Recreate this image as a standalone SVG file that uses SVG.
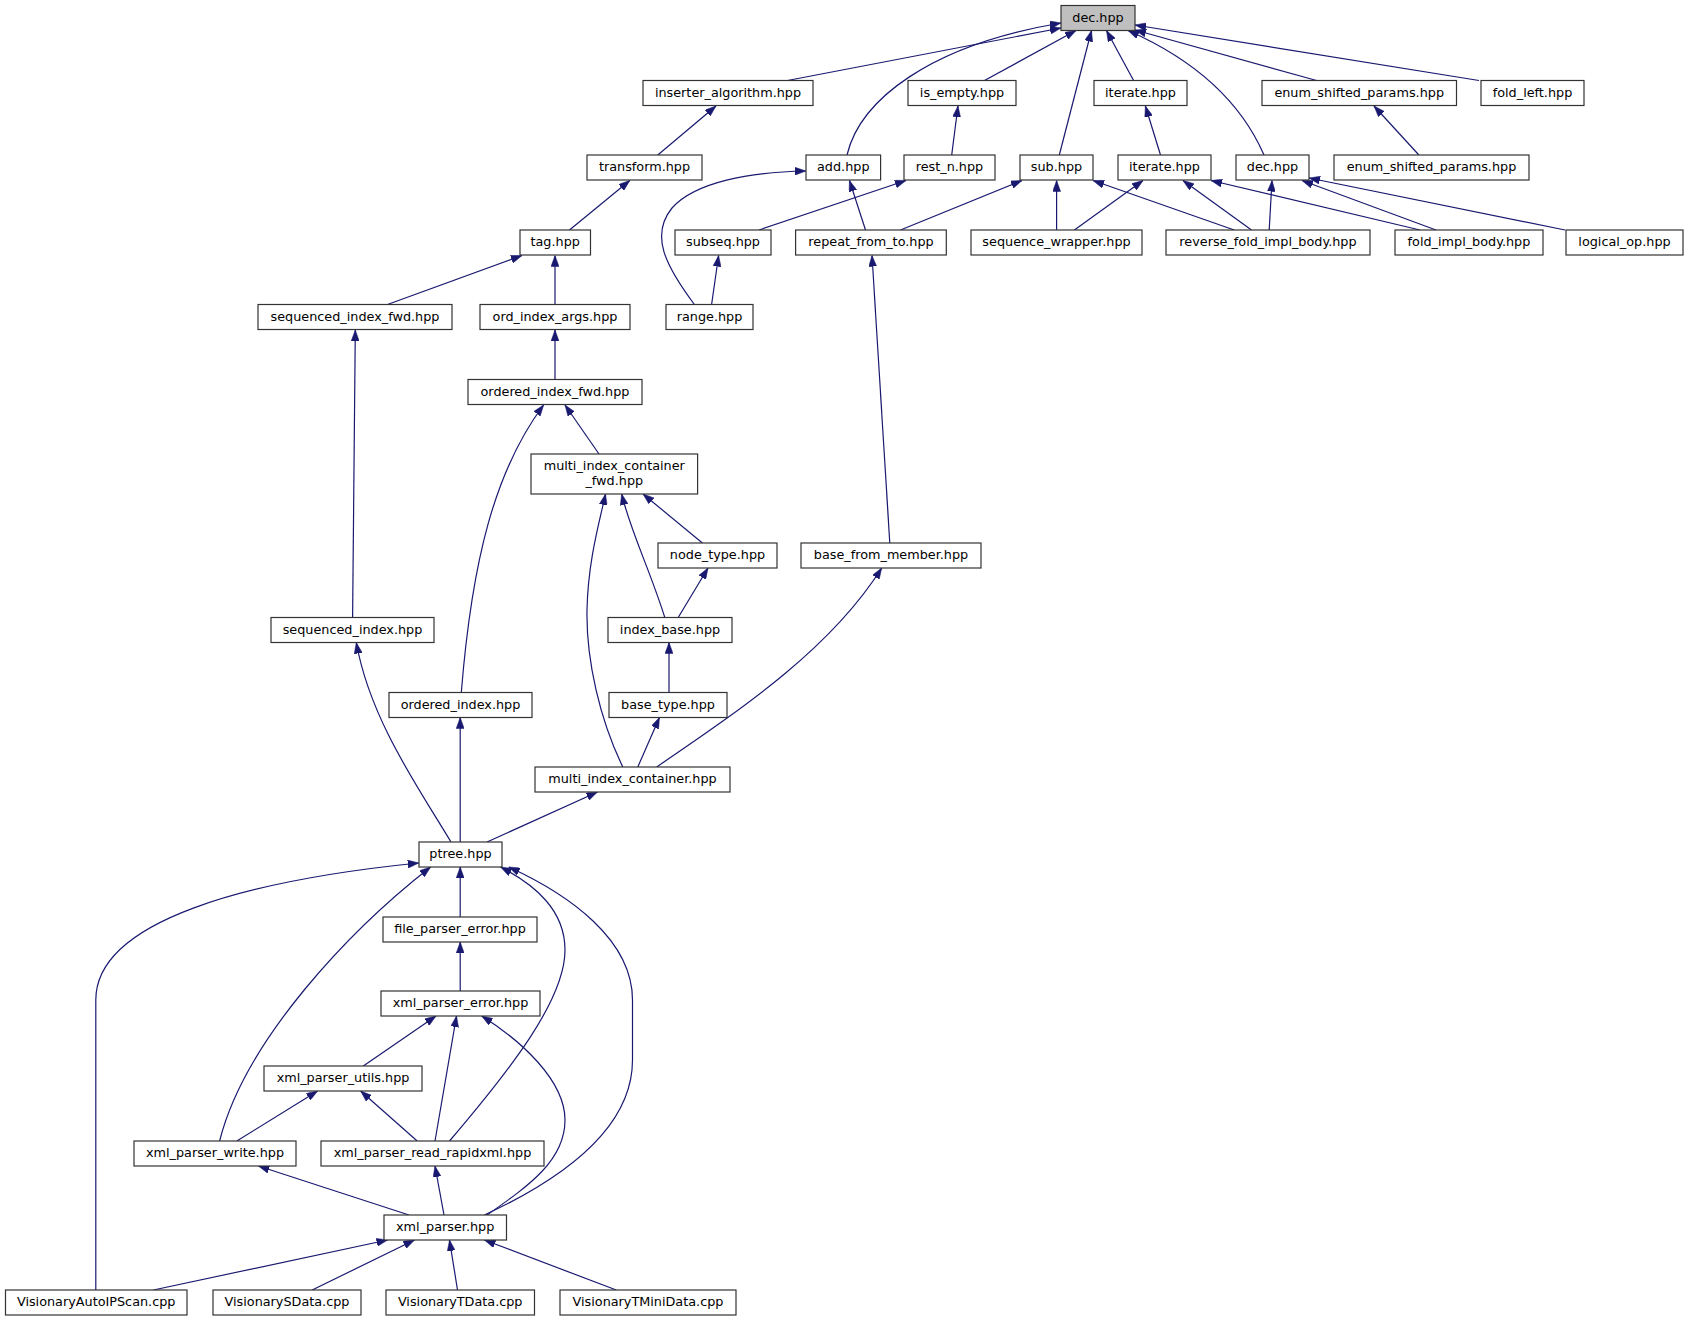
<svg xmlns="http://www.w3.org/2000/svg" width="1688" height="1321" viewBox="0 0 1688 1321">
<style>
.n rect{fill:#ffffff;stroke:#333333;stroke-width:1.2}
.n.root rect{fill:#bfbfbf}
.n text{font-family:"DejaVu Sans","Liberation Sans",sans-serif;font-size:12.8px;fill:#000;text-anchor:middle}
.e path{fill:none;stroke:#191970;stroke-width:1.2;marker-end:url(#ah)}
</style>
<defs>
<marker id="ah" markerUnits="userSpaceOnUse" markerWidth="11" markerHeight="8" refX="11" refY="4" orient="auto">
<path d="M0,0 L11,4 L0,8 z" fill="#191970" stroke="#191970" stroke-width="0.5"/>
</marker>
</defs>
<rect x="0" y="0" width="1688" height="1321" fill="#ffffff"/>
<g id="edges" class="e">
<path d="M787.5,80.5 L1061,28"/>
<path d="M847,155 C860,100 930,45 1061,23"/>
<path d="M984.5,80.5 L1076,30.5"/>
<path d="M1059.3,155 L1091.5,30.5"/>
<path d="M1133.6,80.5 L1106.5,30.5"/>
<path d="M1264,155 C1240,100 1195,60 1128,30.5"/>
<path d="M1316.6,80.5 L1135,30"/>
<path d="M1479,80.5 L1135,25"/>
<path d="M1418.9,155 L1374,106"/>
<path d="M951.7,155 L958,106"/>
<path d="M1160.5,155 L1145.4,106"/>
<path d="M657.8,155 L716,106"/>
<path d="M569.5,230 L629.8,180.5"/>
<path d="M759,230 L906,180.5"/>
<path d="M694.4,304.5 C665,265 650,235 672,208 C695,182 750,172 805.8,171"/>
<path d="M711.6,304.5 L718.6,255.5"/>
<path d="M865.5,230 L849.5,180.5"/>
<path d="M900.5,230 L1022,180.5"/>
<path d="M1056.6,230 L1056.6,180.5"/>
<path d="M1074.4,230 L1143,180.5"/>
<path d="M1234.2,230 L1093,180.5"/>
<path d="M1251.5,230 L1183,180.5"/>
<path d="M1269.2,230 L1272,180.5"/>
<path d="M1420,230 L1211,180.5"/>
<path d="M1436,230 L1302,180.5"/>
<path d="M1565,230 L1309,178"/>
<path d="M387.5,304.5 L522,255.5"/>
<path d="M555,304.5 L555,255.5"/>
<path d="M555,379.5 L555,330"/>
<path d="M352.6,617.5 L355.3,330"/>
<path d="M599,454 L565,405"/>
<path d="M461.3,692.5 C472,560 495,470 543.6,405"/>
<path d="M702.4,543 L643,494"/>
<path d="M664.8,617.5 C650,570 630,530 621.7,494"/>
<path d="M678.2,617.5 L708,568"/>
<path d="M669,692.5 L669,642.5"/>
<path d="M622.8,767 C600,720 586,660 587,610 C588,560 600,520 605.5,494"/>
<path d="M637.8,767 L659.4,717.5"/>
<path d="M656.7,767 C740,710 830,650 881.7,568"/>
<path d="M889.8,543 L872,255.5"/>
<path d="M451,842 C420,790 370,720 356.3,642.5"/>
<path d="M460.2,842 L460.2,717.5"/>
<path d="M487,842 L597.5,792"/>
<path d="M460.2,917 L460.2,867"/>
<path d="M95.8,1290 L95.8,1000 C95.8,920 250,880 418.8,863"/>
<path d="M219.6,1141 C245,1040 350,930 430.6,867"/>
<path d="M449.5,1141 C510,1070 565,1000 565,950 C565,910 535,885 500.6,867"/>
<path d="M484.4,1215 C560,1180 632.5,1130 632.5,1060 L632.5,1000 C632.5,940 570,895 508.7,867"/>
<path d="M460.2,991 L460.2,942"/>
<path d="M363.3,1066 L436,1016"/>
<path d="M435,1141 L456.5,1016"/>
<path d="M487,1215 C530,1185 565,1160 565,1120 C565,1080 520,1040 481.7,1016"/>
<path d="M236.8,1141 L317.6,1091"/>
<path d="M417.2,1141 L360.6,1091"/>
<path d="M409,1215 L258.4,1166"/>
<path d="M444,1215 L435,1166"/>
<path d="M153.4,1290 L387.6,1240"/>
<path d="M312.2,1290 L414.5,1240"/>
<path d="M457.5,1290 L449.5,1240"/>
<path d="M616.3,1290 L484.4,1240"/>
</g>
<g id="n_dec0" class="n root"><rect x="1061" y="5.5" width="74" height="25"/><text x="1098" y="21.5">dec.hpp</text></g>
<g id="n_inserter" class="n"><rect x="643" y="80.5" width="170" height="25"/><text x="728" y="96.5">inserter_algorithm.hpp</text></g>
<g id="n_is_empty" class="n"><rect x="908" y="80.5" width="108" height="25"/><text x="962" y="96.5">is_empty.hpp</text></g>
<g id="n_iterate1" class="n"><rect x="1094" y="80.5" width="93" height="25"/><text x="1140.5" y="96.5">iterate.hpp</text></g>
<g id="n_enum1" class="n"><rect x="1262" y="80.5" width="194.5" height="25"/><text x="1359.2" y="96.5">enum_shifted_params.hpp</text></g>
<g id="n_fold_left" class="n"><rect x="1481" y="80.5" width="103" height="25"/><text x="1532.5" y="96.5">fold_left.hpp</text></g>
<g id="n_transform" class="n"><rect x="587" y="155" width="115" height="25"/><text x="644.5" y="171">transform.hpp</text></g>
<g id="n_add" class="n"><rect x="806" y="155" width="74.6" height="25"/><text x="843.3" y="171">add.hpp</text></g>
<g id="n_rest_n" class="n"><rect x="904" y="155" width="91" height="25"/><text x="949.5" y="171">rest_n.hpp</text></g>
<g id="n_sub" class="n"><rect x="1020" y="155" width="73" height="25"/><text x="1056.5" y="171">sub.hpp</text></g>
<g id="n_iterate2" class="n"><rect x="1118" y="155" width="93" height="25"/><text x="1164.5" y="171">iterate.hpp</text></g>
<g id="n_dec2" class="n"><rect x="1236" y="155" width="73" height="25"/><text x="1272.5" y="171">dec.hpp</text></g>
<g id="n_enum2" class="n"><rect x="1334" y="155" width="195" height="25"/><text x="1431.5" y="171">enum_shifted_params.hpp</text></g>
<g id="n_tag" class="n"><rect x="520" y="230" width="70.5" height="25"/><text x="555.2" y="246">tag.hpp</text></g>
<g id="n_subseq" class="n"><rect x="675" y="230" width="96" height="25"/><text x="723" y="246">subseq.hpp</text></g>
<g id="n_repeat" class="n"><rect x="795.6" y="230" width="150.7" height="25"/><text x="871" y="246">repeat_from_to.hpp</text></g>
<g id="n_seq_wrapper" class="n"><rect x="971" y="230" width="171" height="25"/><text x="1056.5" y="246">sequence_wrapper.hpp</text></g>
<g id="n_reverse_fold" class="n"><rect x="1166" y="230" width="204" height="25"/><text x="1268" y="246">reverse_fold_impl_body.hpp</text></g>
<g id="n_fold_impl" class="n"><rect x="1395" y="230" width="148" height="25"/><text x="1469" y="246">fold_impl_body.hpp</text></g>
<g id="n_logical_op" class="n"><rect x="1566" y="230" width="117" height="25"/><text x="1624.5" y="246">logical_op.hpp</text></g>
<g id="n_seq_index_fwd" class="n"><rect x="258" y="304.5" width="194" height="25"/><text x="355" y="320.5">sequenced_index_fwd.hpp</text></g>
<g id="n_ord_index_args" class="n"><rect x="480" y="304.5" width="150" height="25"/><text x="555" y="320.5">ord_index_args.hpp</text></g>
<g id="n_range" class="n"><rect x="666" y="304.5" width="87" height="25"/><text x="709.5" y="320.5">range.hpp</text></g>
<g id="n_ordered_index_fwd" class="n"><rect x="468" y="379.5" width="174" height="25"/><text x="555" y="395.5">ordered_index_fwd.hpp</text></g>
<g id="n_mic_fwd" class="n"><rect x="531" y="454" width="166.6" height="40"/><text x="614.3" y="470">multi_index_container</text><text x="614.3" y="485">_fwd.hpp</text></g>
<g id="n_node_type" class="n"><rect x="658" y="543" width="119" height="25"/><text x="717.5" y="559">node_type.hpp</text></g>
<g id="n_base_from_member" class="n"><rect x="801" y="543" width="180" height="25"/><text x="891" y="559">base_from_member.hpp</text></g>
<g id="n_seq_index" class="n"><rect x="271" y="617.5" width="163" height="25"/><text x="352.5" y="633.5">sequenced_index.hpp</text></g>
<g id="n_index_base" class="n"><rect x="608" y="617.5" width="124" height="25"/><text x="670" y="633.5">index_base.hpp</text></g>
<g id="n_ordered_index" class="n"><rect x="389" y="692.5" width="143" height="25"/><text x="460.5" y="708.5">ordered_index.hpp</text></g>
<g id="n_base_type" class="n"><rect x="609" y="692.5" width="118" height="25"/><text x="668" y="708.5">base_type.hpp</text></g>
<g id="n_mic" class="n"><rect x="535" y="767" width="195" height="25"/><text x="632.5" y="783">multi_index_container.hpp</text></g>
<g id="n_ptree" class="n"><rect x="419" y="842" width="83" height="25"/><text x="460.5" y="858">ptree.hpp</text></g>
<g id="n_file_parser_error" class="n"><rect x="383" y="917" width="154" height="25"/><text x="460" y="933">file_parser_error.hpp</text></g>
<g id="n_xml_parser_error" class="n"><rect x="381" y="991" width="159" height="25"/><text x="460.5" y="1007">xml_parser_error.hpp</text></g>
<g id="n_xml_parser_utils" class="n"><rect x="264" y="1066" width="158" height="25"/><text x="343" y="1082">xml_parser_utils.hpp</text></g>
<g id="n_xml_parser_write" class="n"><rect x="134" y="1141" width="162" height="25"/><text x="215" y="1157">xml_parser_write.hpp</text></g>
<g id="n_xml_read_rapid" class="n"><rect x="321" y="1141" width="223" height="25"/><text x="432.5" y="1157">xml_parser_read_rapidxml.hpp</text></g>
<g id="n_xml_parser" class="n"><rect x="384" y="1215" width="122.5" height="25"/><text x="445.2" y="1231">xml_parser.hpp</text></g>
<g id="n_autoip" class="n"><rect x="5.5" y="1290" width="181.5" height="25"/><text x="96.2" y="1306">VisionaryAutoIPScan.cpp</text></g>
<g id="n_sdata" class="n"><rect x="213" y="1290" width="148" height="25"/><text x="287" y="1306">VisionarySData.cpp</text></g>
<g id="n_tdata" class="n"><rect x="386" y="1290" width="148.5" height="25"/><text x="460.2" y="1306">VisionaryTData.cpp</text></g>
<g id="n_tmini" class="n"><rect x="560" y="1290" width="176" height="25"/><text x="648" y="1306">VisionaryTMiniData.cpp</text></g>
</svg>
